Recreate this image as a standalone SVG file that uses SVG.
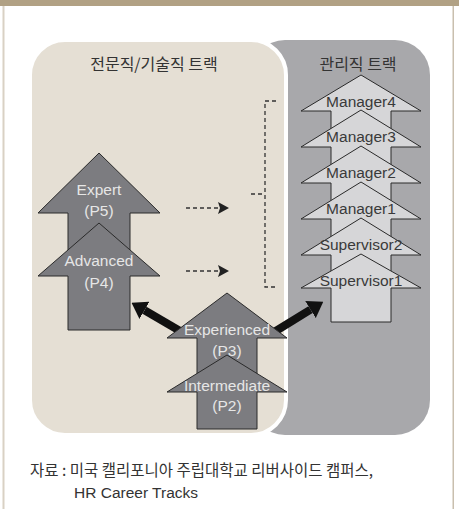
<svg xmlns="http://www.w3.org/2000/svg" width="459" height="509" viewBox="0 0 459 509">
<defs>
<style>
.lbl{font-family:"Liberation Sans",Arial,sans-serif;font-size:15.5px;text-anchor:middle}
.dk{fill:#7c7c80;stroke:#2a2a2a;stroke-width:1}
.lt{fill:#d6d6d8;stroke:#2a2a2a;stroke-width:1}
.dkt{fill:#e6e6e6}
.ltt{fill:#3a3a3a}
.kr{font-family:"Noto Sans CJK KR","Noto Sans",sans-serif;fill:#333}
.dash{fill:none;stroke:#333;stroke-width:1.3;stroke-dasharray:4 3}
.big{fill:none;stroke:#111;stroke-width:8}
</style>
<marker id="bigHead" markerUnits="userSpaceOnUse" markerWidth="15" markerHeight="20" refX="0" refY="10" orient="auto">
<path d="M0,0 L15,10 L0,20 z" fill="#111"/>
</marker>
<marker id="smallHead" markerUnits="userSpaceOnUse" markerWidth="11" markerHeight="12" refX="0" refY="6" orient="auto">
<path d="M0,0 L11,6 L0,12 L2,6 z" fill="#222"/>
</marker>
</defs>
<rect x="0" y="0" width="459" height="509" fill="#fff"/>
<rect x="0" y="0" width="459" height="6" fill="#b1a184"/>
<rect x="2.5" y="6" width="2" height="503" fill="#d9d1c4"/>
<rect x="452.5" y="6" width="1.5" height="503" fill="#c9bfae"/>

<g id="panel-manager">
<rect x="250" y="40" width="180" height="395" rx="35" fill="#a8a8ab"/>
<text class="kr" x="358" y="70" font-size="16" text-anchor="middle">관리직 트랙</text>
</g>
<g id="panel-professional">
<rect x="30" y="40" width="256" height="395" rx="35" fill="#e5dfd4" stroke="#fff" stroke-width="4"/>
<text class="kr" x="154" y="70" font-size="16" text-anchor="middle">전문직/기술직 트랙</text>
</g>

<g id="connectors">
<line class="dash" x1="186" y1="208" x2="218" y2="208" marker-end="url(#smallHead)"/>
<line class="dash" x1="186" y1="271" x2="218" y2="271" marker-end="url(#smallHead)"/>
<path class="dash" d="M276,101 H265 V287 H276"/>
<line class="dash" x1="251" y1="194" x2="264" y2="194"/>
<line class="big" x1="180" y1="331" x2="144.5" y2="310.3" marker-end="url(#bigHead)"/>
<line class="big" x1="275" y1="331.5" x2="310.5" y2="309.6" marker-end="url(#bigHead)"/>
</g>

<g id="expert">
<polygon class="dk" points="99,153 160,213 130,213 130,276 68,276 68,213 38,213"/>
<text class="lbl dkt" x="99" y="195">Expert</text>
<text class="lbl dkt" x="99" y="216">(P5)</text>
</g>
<g id="advanced">
<polygon class="dk" points="99,223 160,276 130,276 130,330 68,330 68,276 38,276"/>
<text class="lbl dkt" x="99" y="266">Advanced</text>
<text class="lbl dkt" x="99" y="288">(P4)</text>
</g>
<g id="experienced">
<polygon class="dk" points="227,293 287,338 257,338 257,392 197,392 197,338 167,338"/>
<text class="lbl dkt" x="227" y="335">Experienced</text>
<text class="lbl dkt" x="227" y="356">(P3)</text>
</g>
<g id="intermediate">
<polygon class="dk" points="227,355 287,392 257,392 257,429 197,429 197,392 167,392"/>
<text class="lbl dkt" x="227" y="391">Intermediate</text>
<text class="lbl dkt" x="227" y="411">(P2)</text>
</g>

<g id="manager4">
<polygon class="lt" points="361,75 421,111 391,111 391,147 331,147 331,111 301,111"/>
<text class="lbl ltt" x="361" y="107">Manager4</text>
</g>
<g id="manager3">
<polygon class="lt" points="361,110 421,147 391,147 391,183 331,183 331,147 301,147"/>
<text class="lbl ltt" x="361" y="142">Manager3</text>
</g>
<g id="manager2">
<polygon class="lt" points="361,146 421,183 391,183 391,219 331,219 331,183 301,183"/>
<text class="lbl ltt" x="361" y="178">Manager2</text>
</g>
<g id="manager1">
<polygon class="lt" points="361,182 421,219 391,219 391,255 331,255 331,219 301,219"/>
<text class="lbl ltt" x="361" y="214">Manager1</text>
</g>
<g id="supervisor2">
<polygon class="lt" points="361,218 421,255 391,255 391,288 331,288 331,255 301,255"/>
<text class="lbl ltt" x="361" y="250">Supervisor2</text>
</g>
<g id="supervisor1">
<polygon class="lt" points="361,254 421,288 391,288 391,322 331,322 331,288 301,288"/>
<text class="lbl ltt" x="361" y="286">Supervisor1</text>
</g>

<g id="source">
<text class="kr" x="30" y="476" font-size="15.5">자료 : 미국 캘리포니아 주립대학교 리버사이드 캠퍼스,</text>
<text x="74" y="498" font-size="15.5" fill="#333" font-family="Liberation Sans,Arial,sans-serif">HR Career Tracks</text>
</g>
</svg>
